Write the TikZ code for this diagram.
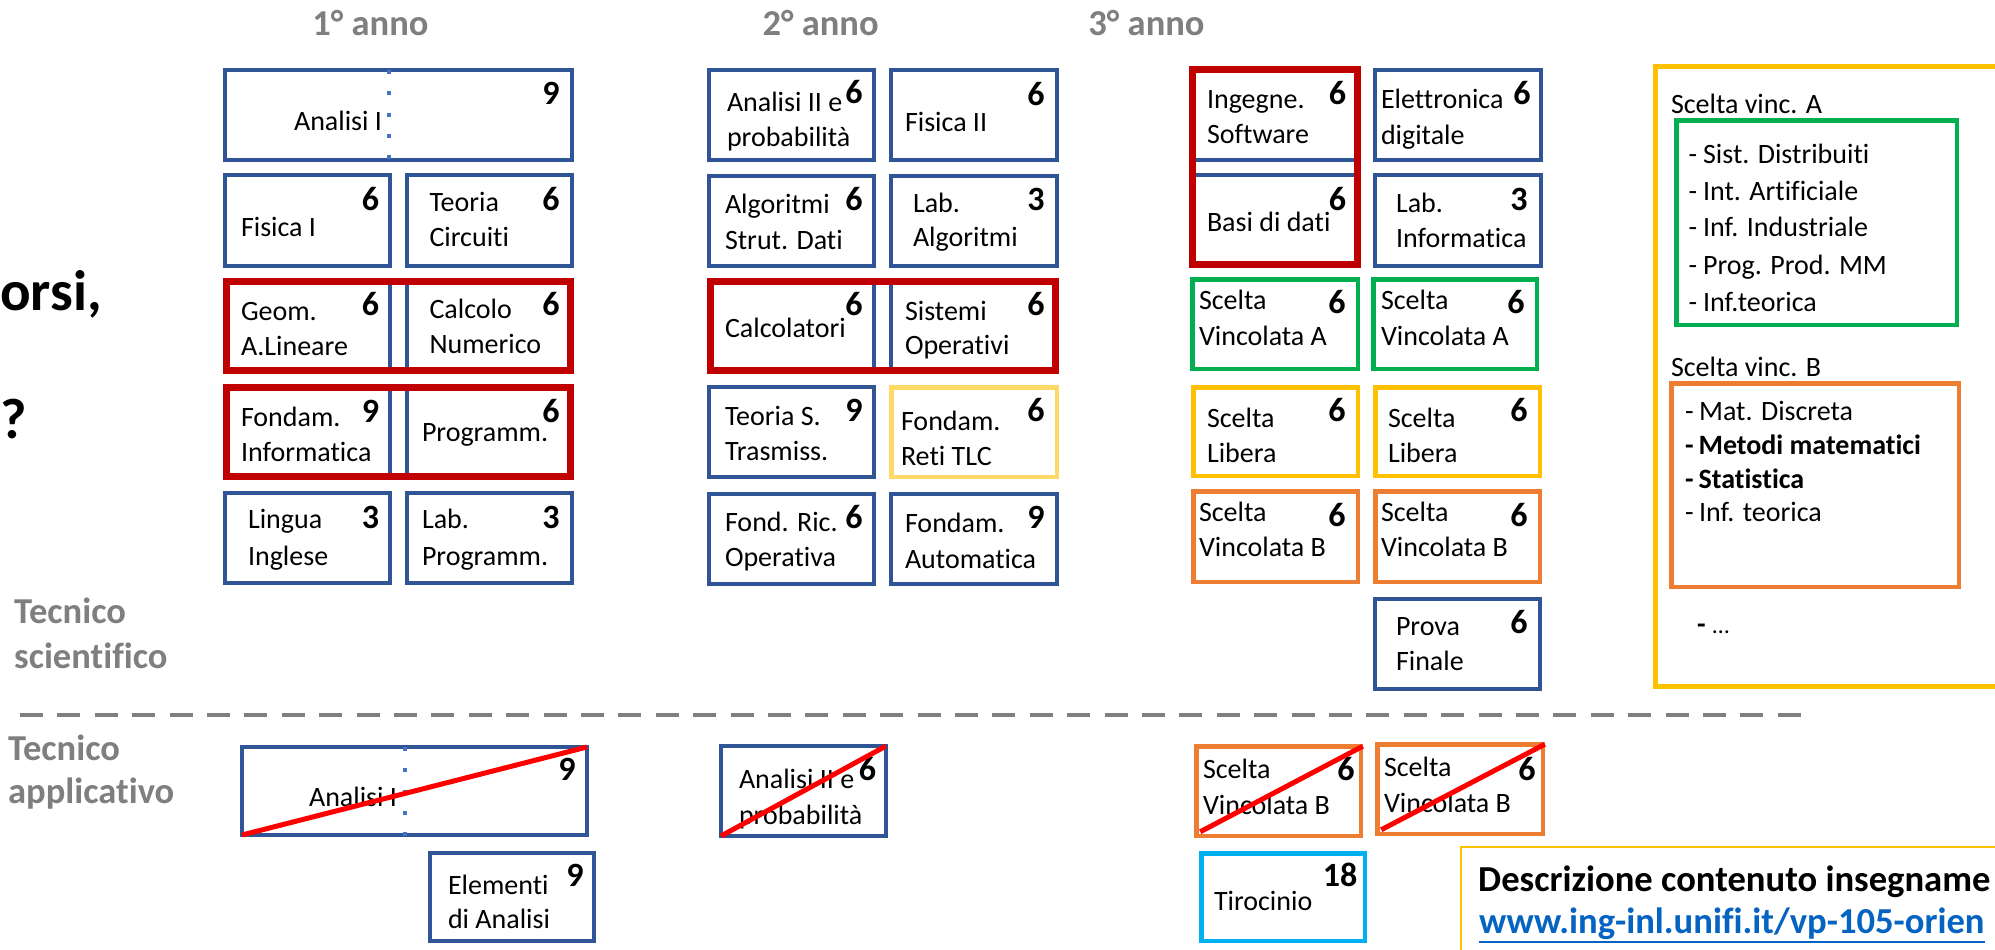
\documentclass[tikz,border=0pt]{standalone}
\usepackage{fontspec}
\setmainfont{Carlito}[Ligatures=CommonOff]
\definecolor{cblue}{RGB}{47,85,151}
\definecolor{cdot}{RGB}{68,114,196}
\definecolor{cred}{RGB}{192,0,0}
\definecolor{cstrike}{RGB}{255,0,0}
\definecolor{cgreen}{RGB}{0,176,80}
\definecolor{cyel}{RGB}{255,192,0}
\definecolor{cltyel}{RGB}{255,217,102}
\definecolor{corange}{RGB}{237,125,49}
\definecolor{ccyan}{RGB}{0,176,240}
\definecolor{cgray}{RGB}{127,127,127}
\definecolor{clink}{RGB}{5,99,193}
\newcommand\mkbox[7]{%
  \pgfmathsetmacro\bxw{#6-#4-#3}%
  \pgfmathsetmacro\bxh{#7-#5-#3}%
  \pgfmathsetmacro\bxx{(#4+#6)/2}%
  \pgfmathsetmacro\bxy{(#5+#7)/2}%
  \node[#2, line width=#3bp, minimum width=\bxw bp, minimum height=\bxh bp] (#1) at (\bxx,\bxy) {};%
}
\newcommand\crsline[4]{\node[txt,anchor=base west] (#1) at (#2,#3) {#4};}
\newcommand\crsnum[4]{\node[num,anchor=base] (#1) at (#2,#3) {#4};}
\begin{document}
\begin{tikzpicture}[x=1bp,y=-1bp,
  bxbase/.style={inner sep=0pt, outer sep=0pt, fill=none},
  bluebx/.style={bxbase, draw=cblue},
  redbx/.style={bxbase, draw=cred},
  greenbx/.style={bxbase, draw=cgreen},
  yelbx/.style={bxbase, draw=cyel},
  ltyelbx/.style={bxbase, draw=cltyel},
  orbx/.style={bxbase, draw=corange},
  cyanbx/.style={bxbase, draw=ccyan},
  descbx/.style={bxbase, draw=cyel},
  txt/.style={font=\fontsize{28bp}{34bp}\selectfont, inner sep=0pt, outer sep=0pt},
  num/.style={font=\fontsize{34bp}{40bp}\selectfont\bfseries, inner sep=0pt, outer sep=0pt},
  yr/.style={font=\fontsize{36.5bp}{42bp}\selectfont\bfseries, text=cgray, inner sep=0pt},
  side/.style={font=\fontsize{36.5bp}{42bp}\selectfont\bfseries, text=cgray, inner sep=0pt, anchor=base west},
  big/.style={font=\fontsize{57bp}{64bp}\selectfont\bfseries, inner sep=0pt},
  desct/.style={font=\fontsize{36.6bp}{42bp}\selectfont\bfseries, inner sep=0pt, anchor=base west},
  strike/.style={draw=cstrike, line width=5bp},
  dotl/.style={draw=cdot, line width=4.5bp, dash pattern=on 4bp off 17.3bp},
  sepline/.style={draw=cgray, line width=4.7bp, dash pattern=on 23bp off 14.4bp}
]
\clip (0,0) rectangle (1995,950);
\fill[white] (0,0) rectangle (1995,950);

% headers
\node[yr, anchor=base] (y1) at (370.5,35) {1° anno};
\node[yr, anchor=base] (y2) at (820.6,35) {2° anno};
\node[yr, anchor=base] (y3) at (1146.5,35) {3° anno};

% left text
\node[big, anchor=base west] (lt1) at (0,310) {orsi,};
\node[big, anchor=base west] (lt2) at (0,438) {?};

\node[side] (ts1) at (14,623) {Tecnico};
\node[side] (ts2) at (14,668) {scientifico};
\node[side] (ta1) at (8,760) {Tecnico};
\node[side] (ta2) at (8,803) {applicativo};

% separator
\coordinate (sepL) at (20,715);
\coordinate (sepR) at (1814,715);
\draw[sepline] (sepL) -- (sepR);

% ---- Column 1
\mkbox{an1}{bluebx}{4}{223}{68}{574}{162}
\mkbox{fis1}{bluebx}{4}{223}{173}{392}{268}
\mkbox{tc}{bluebx}{4}{405}{173}{574}{268}
\mkbox{geo}{bluebx}{4}{223}{278}{392}{374}
\mkbox{cn}{bluebx}{4}{405}{278}{574}{374}
\mkbox{fi}{bluebx}{4}{223}{384}{392}{480}
\mkbox{prg}{bluebx}{4}{405}{384}{574}{480}
\mkbox{li}{bluebx}{4}{223}{491}{392}{585}
\mkbox{lp}{bluebx}{4}{405}{491}{574}{585}
\mkbox{g1}{redbx}{7}{223}{278}{574}{374}
\mkbox{g2}{redbx}{7}{223}{384}{574}{480}
\coordinate (d1a) at (389,70);
\coordinate (d1b) at (389,162);
\draw[dotl] (d1a) -- (d1b);

\node[txt,anchor=base east] (t-an1) at (382,130) {Analisi I};
\crsnum{n-an1}{551}{104}{9}
\crsline{t-fis1}{241}{236.5}{Fisica I}
\crsnum{n-fis1}{370.5}{210}{6}
\crsline{t-tc1}{429.5}{211.5}{Teoria}
\crsline{t-tc2}{429.5}{246.5}{Circuiti}
\crsnum{n-tc}{551}{210}{6}
\crsline{t-geo1}{241}{320.5}{Geom.}
\crsline{t-geo2}{241}{355.5}{A.Lineare}
\crsnum{n-geo}{370.5}{315}{6}
\crsline{t-cn1}{429.5}{318.5}{Calcolo}
\crsline{t-cn2}{429.5}{353.5}{Numerico}
\crsnum{n-cn}{551}{315}{6}
\crsline{t-fi1}{241}{426}{Fondam.}
\crsline{t-fi2}{241}{461.5}{Informatica}
\crsnum{n-fi}{370.5}{422.5}{9}
\crsline{t-prg}{422}{441.5}{Programm.}
\crsnum{n-prg}{551}{422}{6}
\crsline{t-li1}{248}{528.5}{Lingua}
\crsline{t-li2}{248}{565}{Inglese}
\crsnum{n-li}{370.5}{528.5}{3}
\crsline{t-lp1}{422}{528.5}{Lab.}
\crsline{t-lp2}{422}{565}{Programm.}
\crsnum{n-lp}{551}{528.5}{3}

% ---- Column 2
\mkbox{an2}{bluebx}{4}{707}{68}{876}{162}
\mkbox{fis2}{bluebx}{4}{889}{68}{1059}{162}
\mkbox{alg}{bluebx}{4}{707}{174}{876}{268}
\mkbox{lalg}{bluebx}{4}{889}{174}{1059}{268}
\mkbox{calc}{bluebx}{4}{707}{278}{876}{374}
\mkbox{so}{bluebx}{4}{889}{278}{1059}{374}
\mkbox{tst}{bluebx}{4}{707}{385}{876}{479}
\mkbox{frt}{ltyelbx}{4.5}{889}{385}{1059}{479}
\mkbox{fro}{bluebx}{4}{707}{492}{876}{586}
\mkbox{fa}{bluebx}{4}{889}{492}{1059}{586}
\mkbox{g3}{redbx}{7}{707}{278}{1059}{374}

\crsline{t-an2a}{727}{111.5}{Analisi II e}
\crsline{t-an2b}{727}{146.5}{probabilità}
\crsnum{n-an2}{854}{103.5}{6}
\crsline{t-fis2}{905}{131.5}{Fisica II}
\crsnum{n-fis2}{1036}{105}{6}
\crsline{t-alg1}{725}{213}{Algoritmi}
\crsline{t-alg2}{725}{249.5}{Strut. Dati}
\crsnum{n-alg}{854}{210}{6}
\crsline{t-lalg1}{913}{212.3}{Lab.}
\crsline{t-lalg2}{913}{246.7}{Algoritmi}
\crsnum{n-lalg}{1036}{210}{3}
\crsline{t-calc}{725}{337.3}{Calcolatori}
\crsnum{n-calc}{854}{315}{6}
\crsline{t-so1}{905}{320}{Sistemi}
\crsline{t-so2}{905}{354.3}{Operativi}
\crsnum{n-so}{1036}{315}{6}
\crsline{t-tst1}{725}{425.7}{Teoria S.}
\crsline{t-tst2}{725}{460.7}{Trasmiss.}
\crsnum{n-tst}{854}{421.7}{9}
\crsline{t-frt1}{901}{430}{Fondam.}
\crsline{t-frt2}{901}{465}{Reti TLC}
\crsnum{n-frt}{1036}{421.7}{6}
\crsline{t-fro1}{725}{531.7}{Fond. Ric.}
\crsline{t-fro2}{725}{566.7}{Operativa}
\crsnum{n-fro}{854}{528.3}{6}
\crsline{t-fa1}{905}{532.7}{Fondam.}
\crsline{t-fa2}{905}{568}{Automatica}
\crsnum{n-fa}{1036}{528.3}{9}

% ---- Column 3
\mkbox{is}{bluebx}{4}{1190}{68}{1360}{162}
\mkbox{bd}{bluebx}{4}{1190}{173}{1360}{268}
\mkbox{g4}{redbx}{7}{1189}{66}{1361}{268}
\mkbox{el}{bluebx}{4}{1373}{68}{1543}{162}
\mkbox{linf}{bluebx}{4}{1373}{173}{1543}{268}
\mkbox{sa1}{greenbx}{4.5}{1190}{277}{1360}{371}
\mkbox{sa2}{greenbx}{4.5}{1371}{277}{1539}{371}
\mkbox{sl1}{yelbx}{4.5}{1191}{385}{1360}{478}
\mkbox{sl2}{yelbx}{4.5}{1373}{385}{1542}{478}
\mkbox{sb1}{orbx}{4.5}{1191}{489}{1360}{584}
\mkbox{sb2}{orbx}{4.5}{1373}{489}{1542}{584}
\mkbox{pf}{bluebx}{4}{1373}{597}{1542}{691}

\crsline{t-is1}{1207}{108.3}{Ingegne.}
\crsline{t-is2}{1207}{143.3}{Software}
\crsnum{n-is}{1337.5}{104}{6}
\crsline{t-el1}{1381}{108.3}{Elettronica}
\crsline{t-el2}{1381}{144}{digitale}
\crsnum{n-el}{1522}{104}{6}
\crsline{t-bd}{1207}{231}{Basi di dati}
\crsnum{n-bd}{1337.5}{210}{6}
\crsline{t-linf1}{1396}{212.3}{Lab.}
\crsline{t-linf2}{1396}{247.3}{Informatica}
\crsnum{n-linf}{1519}{210}{3}
\crsline{t-sa1a}{1199}{309.3}{Scelta}
\crsline{t-sa1b}{1199}{345}{Vincolata A}
\crsnum{n-sa1}{1337}{313.5}{6}
\crsline{t-sa2a}{1381}{309.3}{Scelta}
\crsline{t-sa2b}{1381}{345}{Vincolata A}
\crsnum{n-sa2}{1516}{313.5}{6}
\crsline{t-sl1a}{1207}{427.3}{Scelta}
\crsline{t-sl1b}{1207}{462.7}{Libera}
\crsnum{n-sl1}{1337}{421.7}{6}
\crsline{t-sl2a}{1388}{427.3}{Scelta}
\crsline{t-sl2b}{1388}{462.7}{Libera}
\crsnum{n-sl2}{1519}{421.7}{6}
\crsline{t-sb1a}{1199}{521.7}{Scelta}
\crsline{t-sb1b}{1199}{556.7}{Vincolata B}
\crsnum{n-sb1}{1337}{526}{6}
\crsline{t-sb2a}{1381}{521.7}{Scelta}
\crsline{t-sb2b}{1381}{556.7}{Vincolata B}
\crsnum{n-sb2}{1519}{526}{6}
\crsline{t-pf1}{1396}{635}{Prova}
\crsline{t-pf2}{1396}{670}{Finale}
\crsnum{n-pf}{1519}{633.3}{6}

% ---- Right panel
\mkbox{panel}{yelbx}{5}{1653}{64}{2040}{689}
\mkbox{lista}{greenbx}{4.5}{1674}{118}{1959}{327}
\mkbox{listb}{orbx}{4.5}{1669}{381}{1961}{589}
\crsline{t-va}{1671}{113}{Scelta vinc. A}
\crsline{t-a1}{1688.5}{163}{-\hspace{6bp}Sist. Distribuiti}
\crsline{t-a2}{1688.5}{200}{-\hspace{6bp}Int. Artificiale}
\crsline{t-a3}{1688.5}{236.5}{-\hspace{6bp}Inf. Industriale}
\crsline{t-a4}{1688.5}{274}{-\hspace{6bp}Prog. Prod. MM}
\crsline{t-a5}{1688.5}{311.5}{-\hspace{6bp}Inf.teorica}
\crsline{t-vb}{1671}{376}{Scelta vinc. B}
\crsline{t-b1}{1685}{420}{-\hspace{5.5bp}Mat. Discreta}
\crsline{t-b2}{1685}{454}{\bfseries -\hspace{5bp}Metodi matematici}
\crsline{t-b3}{1685}{488}{\bfseries -\hspace{5bp}Statistica}
\crsline{t-b4}{1685}{521.7}{-\hspace{5.5bp}Inf. teorica}
\crsline{t-etc}{1697}{633}{\bfseries -\hspace{7bp}\mdseries\fontsize{24bp}{28bp}\selectfont …}

% ---- Bottom (applicativo)
\mkbox{an1b}{bluebx}{4}{240}{745}{589}{837}
\mkbox{ea}{bluebx}{4}{428}{851}{596}{943}
\mkbox{an2b}{bluebx}{4}{719}{744}{888}{838}
\mkbox{sb1b}{orbx}{4.5}{1194}{744}{1363}{838}
\mkbox{sb2b}{orbx}{4.5}{1375}{742}{1545}{836}
\mkbox{tir}{cyanbx}{4.5}{1199}{851}{1367}{943}
\mkbox{desc}{descbx}{1.5}{1460}{846}{2040}{1000}
\coordinate (d2a) at (405,747);
\coordinate (d2b) at (405,838);
\draw[dotl] (d2a) -- (d2b);

\node[txt,anchor=base east] (t-an1b) at (397,806) {Analisi I};
\crsnum{n-an1b}{567}{780.7}{9}
\crsline{t-ea1}{448}{894}{Elementi}
\crsline{t-ea2}{448}{928.3}{di Analisi}
\crsnum{n-ea}{575}{886.7}{9}
\crsline{t-an2ba}{739}{788.3}{Analisi II e}
\crsline{t-an2bb}{739}{824.3}{probabilità}
\crsnum{n-an2b}{867.5}{780.7}{6}
\crsline{t-sb1ba}{1203}{778.3}{Scelta}
\crsline{t-sb1bb}{1203}{814}{Vincolata B}
\crsnum{n-sb1b}{1346}{780.7}{6}
\crsline{t-sb2ba}{1384}{776.7}{Scelta}
\crsline{t-sb2bb}{1384}{812.3}{Vincolata B}
\crsnum{n-sb2b}{1527}{780}{6}
\crsline{t-tir}{1214}{910}{Tirocinio}
\crsnum{n-tir}{1340}{886.7}{18}

\draw[strike] (an1b.south west) -- (an1b.north east);
\draw[strike] (an2b.south west) -- (an2b.north east);
\draw[strike] ([xshift=4bp,yshift=4bp]sb1b.south west) -- ([xshift=2bp]sb1b.north east);
\draw[strike] ([xshift=4bp,yshift=4bp]sb2b.south west) -- ([xshift=2bp]sb2b.north east);

\node[desct] (dsc) at (1478,891.7) {Descrizione contenuto insegname};
\node[desct, text=clink] (lnk) at (1479,933) {www.ing-inl.unifi.it/vp-105-orien};
\draw[draw=clink, line width=2.5bp] ([yshift=-9bp]lnk.base west) -- ([yshift=-9bp]lnk.base east);
\end{tikzpicture}
\end{document}
